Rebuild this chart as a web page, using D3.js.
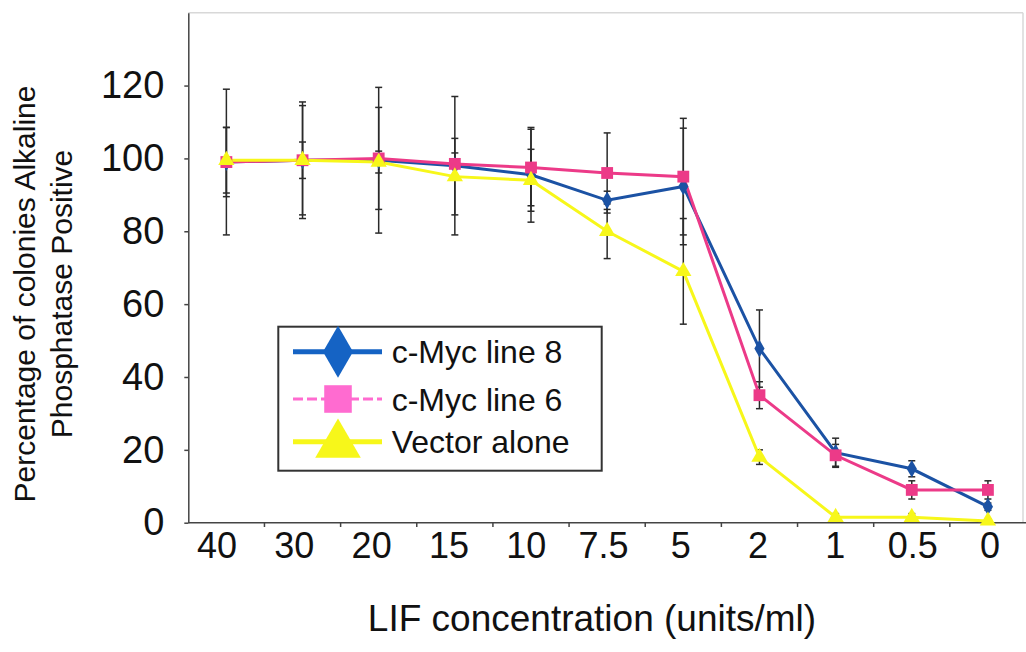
<!DOCTYPE html>
<html>
<head>
<meta charset="utf-8">
<script src="https://cdn.jsdelivr.net/npm/d3@7"></script>
<style>
  body { margin: 0; background: #fff; }
  svg { display: block; font-family: "Liberation Sans", Arial, sans-serif; }
</style>
</head>
<body>
<svg id="chart"></svg>
<script>
var categories = ["40", "30", "20", "15", "10", "7.5", "5", "2", "1", "0.5", "0"];
var yTicks = [0, 20, 40, 60, 80, 100, 120];

// c-Myc line 8
var myc8 = [99, 99.5, 99.5, 98, 95.5, 88.5, 92.3, 47.8, 19.2, 14.8, 4.4];
var myc8Err = [20, 16, 20, 19, 13, 2.5, 16, 10.6, 4, 2.2, 1];
// c-Myc line 6
var myc6 = [99, 99.5, 100, 98.5, 97.5, 96, 95, 35, 18.5, 9, 9];
var myc6Err = [9.5, 15, 14, 3, 10.5, 11, 16, 3.7, 3, 2.5, 2.5];
// Vector alone
var vector = [99.5, 99.5, 99, 95, 94, 80, 69, 18, 1.5, 1.5, 0.5];
var vectorErr = [9, 5, 3, 10.5, 8.5, 7.5, 14.5, 2, 1, 1, 0.5];

var width = 1026, height = 652;

var svg = d3.select("#chart")
  .attr("width", width)
  .attr("height", height);

var x = d3.scaleBand()
  .domain(categories)
  .range([188.3, 1026]);

// tick labels sit on a slightly wider spread than the points
var xLabel = d3.scaleBand()
  .domain(categories)
  .range([178.4, 1028.6]);

var y = d3.scaleLinear()
  .domain([0, 140])
  .range([522.7, 12.7]);

var series = [
  {name: "c-Myc line 8", values: myc8, err: myc8Err, color: "#1b52a4", legendColor: "#1563c4", shape: "diamond"},
  {name: "c-Myc line 6", values: myc6, err: myc6Err, color: "#ec3a88", legendColor: "#ff6bd0", shape: "square"},
  {name: "Vector alone", values: vector, err: vectorErr, color: "#f7f71a", legendColor: "#f7f71a", shape: "triangle"}
];

function cx(i) { return x(categories[i]) + x.bandwidth() / 2; }

// light frame top/right
svg.append("line").attr("x1", 188.3).attr("x2", 1023).attr("y1", 12.7).attr("y2", 12.7)
  .attr("stroke", "#d8d8d8").attr("stroke-width", 1.5);
svg.append("line").attr("x1", 1023).attr("x2", 1023).attr("y1", 12.7).attr("y2", 522.7)
  .attr("stroke", "#d8d8d8").attr("stroke-width", 1.5);

// axes
var yAxis = svg.append("g")
  .attr("transform", "translate(188.3,0)")
  .call(d3.axisLeft(y).tickValues(yTicks).tickSize(4).tickSizeOuter(0).tickPadding(20));
yAxis.selectAll("text").attr("font-size", 38).attr("fill", "#111").attr("font-family", "Liberation Sans, Arial, sans-serif");
yAxis.selectAll("line, path").attr("stroke", "#444").attr("stroke-width", 1.5);

svg.append("line")
  .attr("x1", x.range()[0]).attr("x2", x.range()[1])
  .attr("y1", 522.7).attr("y2", 522.7)
  .attr("stroke", "#444").attr("stroke-width", 1.5);

var xAxis = svg.append("g")
  .attr("transform", "translate(0,522.7)")
  .call(d3.axisBottom(xLabel).tickSize(0).tickSizeOuter(0).tickPadding(10));
xAxis.select(".domain").remove();
xAxis.selectAll("text").attr("font-size", 36).attr("fill", "#111").attr("font-family", "Liberation Sans, Arial, sans-serif");

// category boundary ticks
svg.append("g").selectAll("line")
  .data(d3.range(1, categories.length))
  .enter().append("line")
  .attr("x1", function(i) { return x.range()[0] + x.step() * i; })
  .attr("x2", function(i) { return x.range()[0] + x.step() * i; })
  .attr("y1", 522.7).attr("y2", 527)
  .attr("stroke", "#444").attr("stroke-width", 1.5);

// error bars
series.forEach(function(s) {
  var g = svg.append("g").attr("stroke", "#2a2a2a").attr("stroke-width", 1.5);
  s.values.forEach(function(v, i) {
    var e = s.err[i], xc = cx(i);
    g.append("line").attr("x1", xc).attr("x2", xc).attr("y1", y(v + e)).attr("y2", y(v - e));
    g.append("line").attr("x1", xc - 3.5).attr("x2", xc + 3.5).attr("y1", y(v + e)).attr("y2", y(v + e));
    g.append("line").attr("x1", xc - 3.5).attr("x2", xc + 3.5).attr("y1", y(v - e)).attr("y2", y(v - e));
  });
});

var line = d3.line()
  .x(function(d, i) { return cx(i); })
  .y(function(d) { return y(d); });

function symbolPath(shape, size) {
  var t = shape === "diamond" ? d3.symbolDiamond : shape === "square" ? d3.symbolSquare : d3.symbolTriangle;
  return d3.symbol().type(t).size(size)();
}

var markerSize = {diamond: 90, square: 140, triangle: 115};

series.forEach(function(s) {
  svg.append("path")
    .datum(s.values)
    .attr("fill", "none")
    .attr("stroke", s.color)
    .attr("stroke-width", 3)
    .attr("d", line);
});

series.forEach(function(s) {
  svg.append("g").selectAll("path")
    .data(s.values)
    .enter().append("path")
    .attr("transform", function(d, i) { return "translate(" + cx(i) + "," + y(d) + ")"; })
    .attr("d", symbolPath(s.shape, markerSize[s.shape]))
    .attr("fill", s.color);
});

// legend
var legend = svg.append("g");
legend.append("rect")
  .attr("x", 278.3).attr("y", 326.7)
  .attr("width", 323.4).attr("height", 144)
  .attr("fill", "#fff").attr("stroke", "#333").attr("stroke-width", 2);

var legendY = [351.7, 399, 441.7];
var legendMarker = {diamond: 780, square: 760, triangle: 900};
series.forEach(function(s, i) {
  var ly = legendY[i];
  legend.append("line")
    .attr("x1", 293).attr("x2", 382)
    .attr("y1", ly).attr("y2", ly)
    .attr("stroke", s.legendColor)
    .attr("stroke-width", s.shape === "square" ? 3 : 5)
    .attr("stroke-dasharray", s.shape === "square" ? "10,4" : null);
  legend.append("path")
    .attr("transform", "translate(338," + (ly + (s.shape === "triangle" ? 3 : 0)) + ")")
    .attr("d", symbolPath(s.shape, legendMarker[s.shape]))
    .attr("fill", s.legendColor);
  legend.append("text")
    .attr("x", 391.7).attr("y", ly + 11.6)
    .attr("font-size", 32).attr("fill", "#111")
    .text(s.name);
});

// axis titles
svg.append("text")
  .attr("x", 592).attr("y", 631)
  .attr("text-anchor", "middle")
  .attr("font-size", 37).attr("fill", "#111")
  .text("LIF concentration (units/ml)");

var yTitle = svg.append("text")
  .attr("transform", "translate(0,294) rotate(-90)")
  .attr("text-anchor", "middle")
  .attr("font-size", 30).attr("fill", "#111");
yTitle.append("tspan").attr("x", 0).attr("y", 35).text("Percentage of colonies Alkaline");
yTitle.append("tspan").attr("x", 0).attr("y", 72).text("Phosphatase Positive");
</script>
</body>
</html>
